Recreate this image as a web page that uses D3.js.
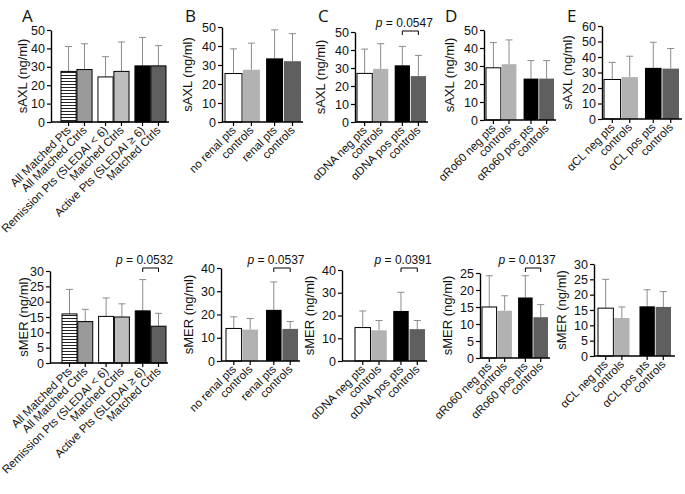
<!DOCTYPE html>
<html>
<head>
<meta charset="utf-8">
<script src="https://cdn.jsdelivr.net/npm/d3@7"></script>
<style>
  body { margin: 0; background: #fff; }
  svg { display: block; font-family: "Liberation Sans", Arial, sans-serif; }
</style>
</head>
<body>
<svg id="fig" width="685" height="494"></svg>
<script>
// ---- data ----
const labelsA = ['All Matched Pts', 'All Matched Ctrls', 'Remission Pts (SLEDAI < 6)',
  'Matched Ctrls', 'Active Pts (SLEDAI \u2265 6)', 'Matched Ctrls'];
const labelsB = ['no renal pts', 'controls', 'renal pts', 'controls'];
const labelsC = ['\u03b1DNA neg pts', 'controls', '\u03b1DNA pos pts', 'controls'];
const labelsD = ['\u03b1Ro60 neg pts', 'controls', '\u03b1Ro60 pos pts', 'controls'];
const labelsE = ['\u03b1CL neg pts', 'controls', '\u03b1CL pos pts', 'controls'];

// sAXL (top row): mean and SD
const axlMeanA = [27.5, 28.5, 24.5, 27.5, 30.5, 30.5];
const axlSdA   = [13.5, 14, 11, 16, 15.5, 11];
const axlMeanB = [25.5, 27.5, 33.5, 32];
const axlSdB   = [13, 14, 15, 14.5];
const axlMeanC = [27, 29.5, 31.5, 25.5];
const axlSdC   = [13.5, 14, 10.5, 11.5];
const axlMeanD = [29, 31, 23, 23];
const axlSdD   = [14, 13.5, 10, 10];
const axlMeanE = [25.5, 27, 33, 32.5];
const axlSdE   = [11, 13.5, 16.5, 13];

// sMER (bottom row)
const merMeanA = [16, 13.5, 15.2, 15, 17, 12];
const merSdA   = [8, 4, 6, 4.3, 10.2, 4.2];
const merMeanB = [14, 13.5, 22, 13.8];
const merSdB   = [5, 4.8, 12, 3.2];
const merMeanC = [14.7, 13.5, 22, 14];
const merSdC   = [7.3, 4.3, 8.2, 3.8];
const merMeanD = [15, 13.9, 17.8, 12];
const merSdD   = [9.2, 4.4, 6.4, 3.7];
const merMeanE = [15.6, 12.4, 16.2, 16];
const merSdE   = [9.4, 3.6, 5.4, 5];

// axis maxima / tick steps
const axlMax = [50, 50, 50, 50, 60];
const merMax = [30, 40, 40, 25, 30];
const merStep = [5, 10, 10, 5, 5];

// p-value brackets: [panel, bar i, bar j, text]
const pTop = [['C', 2, 3, '0.0547']];
const pBottom = [['A', 4, 5, '0.0532'], ['B', 2, 3, '0.0537'], ['C', 2, 3, '0.0391'], ['D', 2, 3, '0.0137']];

// ---- layout ----
const svg = d3.select('#fig');

const pat = svg.append('defs').append('pattern')
  .attr('id', 'hatch').attr('patternUnits', 'userSpaceOnUse')
  .attr('width', 4).attr('height', 3);
pat.append('rect').attr('width', 4).attr('height', 3).attr('fill', '#fff');
pat.append('line').attr('x1', 0).attr('x2', 4).attr('y1', 0.5).attr('y2', 0.5)
  .attr('stroke', '#222').attr('stroke-width', 1);

const fillsA = ['url(#hatch)', '#9a9a9a', '#fff', '#bdbdbd', '#000', '#5f5f5f'];
const fills = ['#fff', '#b2b2b2', '#000', '#5f5f5f'];

function drawPanel(cfg) {
  const g = svg.append('g');
  const n = cfg.mean.length;
  const groups = d3.range(n / 2);

  const y = d3.scaleLinear().domain([0, cfg.max]).range([cfg.y0, cfg.yTop]);
  const xg = d3.scaleBand().domain(groups).range(cfg.bars).paddingInner(cfg.gap).paddingOuter(0);
  const xi = d3.scaleBand().domain([0, 1]).range([0, xg.bandwidth()]).paddingInner(0.05);
  const bx = i => xg(Math.floor(i / 2)) + xi(i % 2);
  const bw = xi.bandwidth();
  const rows = cfg.mean.map((m, i) => ({ m, sd: cfg.sd[i], i, label: cfg.labels[i] }));

  // error bars (upward only)
  g.selectAll('.err').data(rows).enter().append('path')
    .attr('d', d => {
      const cx = bx(d.i) + bw / 2, t = y(d.m + d.sd);
      return `M${cx},${y(d.m)}V${t}M${cx - 3.5},${t}H${cx + 3.5}`;
    })
    .attr('stroke', '#8c8c8c').attr('stroke-width', 1).attr('fill', 'none');

  // bars
  g.selectAll('.bar').data(rows).enter().append('rect')
    .attr('x', d => bx(d.i)).attr('width', bw)
    .attr('y', d => y(d.m)).attr('height', d => cfg.y0 - y(d.m))
    .attr('fill', d => cfg.fills[d.i])
    .attr('stroke', d => (cfg.outline || cfg.fills[d.i] === '#fff') ? '#000' : 'none')
    .attr('stroke-width', 1);

  // y axis
  const yAx = g.append('g').attr('transform', `translate(${cfg.ax},0)`)
    .call(d3.axisLeft(y).tickValues(d3.range(0, cfg.max + 0.1, cfg.step)).tickSize(4).tickPadding(2).tickSizeOuter(0));
  yAx.select('.domain').attr('stroke-width', 1.4);
  yAx.selectAll('.tick line').attr('stroke-width', 1.2);
  yAx.selectAll('text').attr('font-size', 12.5).attr('fill', '#111');

  // x axis line + ticks
  g.append('line').attr('x1', cfg.ax).attr('x2', cfg.axEnd)
    .attr('y1', cfg.y0).attr('y2', cfg.y0).attr('stroke', '#000').attr('stroke-width', 1.4);
  g.selectAll('.xt').data(rows).enter().append('line')
    .attr('x1', d => bx(d.i) + bw / 2).attr('x2', d => bx(d.i) + bw / 2)
    .attr('y1', cfg.y0).attr('y2', cfg.y0 + 4).attr('stroke', '#000').attr('stroke-width', 1.2);

  // rotated category labels
  g.selectAll('.xl').data(rows).enter().append('text')
    .attr('transform', d => `translate(${bx(d.i) + bw / 2 + 3},${cfg.y0 + 9}) rotate(-45)`)
    .attr('text-anchor', 'end').attr('font-size', 11.5).attr('fill', '#111')
    .text(d => d.label);

  // y title
  g.append('text')
    .attr('transform', `translate(${cfg.ax - cfg.titleOff},${(cfg.y0 + cfg.yTop) / 2}) rotate(-90)`)
    .attr('text-anchor', 'middle').attr('font-size', 13).attr('fill', '#111')
    .text(cfg.title);

  if (cfg.letter) {
    g.append('text').attr('x', cfg.letterX).attr('y', 22)
      .attr('font-family', '"Open Sans", sans-serif').attr('font-size', 17)
      .attr('fill', '#111').text(cfg.letter);
  }

  (cfg.pvals || []).forEach(([, a, b, txt]) => {
    const x1 = bx(a) + bw / 2, x2 = bx(b) + bw / 2, yb = cfg.pY;
    g.append('path').attr('d', `M${x1},${yb + 4}V${yb}H${x2}V${yb + 4}`)
      .attr('stroke', '#000').attr('stroke-width', 1).attr('fill', 'none');
    const t = g.append('text').attr('x', (x1 + x2) / 2 - 6).attr('y', yb - 4)
      .attr('text-anchor', 'middle').attr('font-size', 12).attr('fill', '#111');
    t.append('tspan').attr('font-style', 'italic').text('p');
    t.append('tspan').text(' = ' + txt);
  });
}

const topCfg = [
  { letter: 'A', letterX: 22, ax: 51, bars: [61, 166], axEnd: 169, y0: 122, yTop: 30, gap: 0.16, labels: labelsA, mean: axlMeanA, sd: axlSdA, fills: fillsA, outline: true, titleOff: 24 },
  { letter: 'B', letterX: 185, ax: 222, bars: [225, 301], axEnd: 303, y0: 122, yTop: 27, gap: 0.15, labels: labelsB, mean: axlMeanB, sd: axlSdB, fills: fills, titleOff: 30 },
  { letter: 'C', letterX: 318, ax: 355, bars: [357, 426], axEnd: 428, y0: 122, yTop: 32, gap: 0.17, labels: labelsC, mean: axlMeanC, sd: axlSdC, fills: fills, titleOff: 30 },
  { letter: 'D', letterX: 445, ax: 484, bars: [486, 554], axEnd: 556, y0: 120, yTop: 30, gap: 0.19, labels: labelsD, mean: axlMeanD, sd: axlSdD, fills: fills, titleOff: 30 },
  { letter: 'E', letterX: 567, ax: 602, bars: [604, 679], axEnd: 682, y0: 119, yTop: 26, gap: 0.17, labels: labelsE, mean: axlMeanE, sd: axlSdE, fills: fills, titleOff: 30 }
];
const botCfg = [
  { ax: 50, bars: [62, 166], axEnd: 168, y0: 363, yTop: 271, gap: 0.16, labels: labelsA, mean: merMeanA, sd: merSdA, fills: fillsA, outline: true, titleOff: 22 },
  { ax: 221, bars: [226, 298], axEnd: 300, y0: 361, yTop: 268, gap: 0.2, labels: labelsB, mean: merMeanB, sd: merSdB, fills: fills, titleOff: 28 },
  { ax: 342, bars: [355, 425], axEnd: 427, y0: 361, yTop: 270, gap: 0.17, labels: labelsC, mean: merMeanC, sd: merSdC, fills: fills, titleOff: 28 },
  { ax: 480, bars: [482, 548], axEnd: 550, y0: 358, yTop: 273, gap: 0.17, labels: labelsD, mean: merMeanD, sd: merSdD, fills: fills, titleOff: 28 },
  { ax: 594, bars: [598, 671], axEnd: 675, y0: 356, yTop: 264, gap: 0.24, labels: labelsE, mean: merMeanE, sd: merSdE, fills: fills, titleOff: 28 }
];
const names = ['A', 'B', 'C', 'D', 'E'];

topCfg.forEach((c, k) => {
  c.max = axlMax[k]; c.step = 10; c.title = 'sAXL (ng/ml)'; c.pY = 31;
  c.pvals = pTop.filter(p => p[0] === names[k]);
  drawPanel(c);
});
botCfg.forEach((c, k) => {
  c.max = merMax[k]; c.step = merStep[k]; c.title = 'sMER (ng/ml)'; c.pY = 268;
  c.pvals = pBottom.filter(p => p[0] === names[k]);
  drawPanel(c);
});
</script>
</body>
</html>
